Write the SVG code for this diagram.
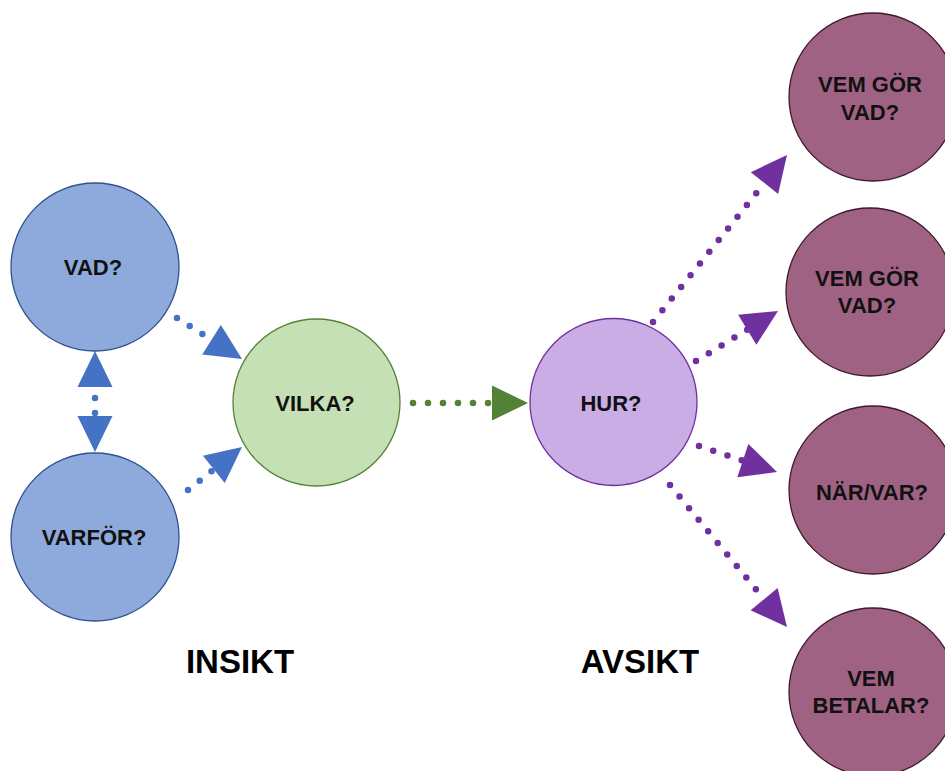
<svg xmlns="http://www.w3.org/2000/svg" width="945" height="771" viewBox="0 0 945 771">
<style>
text{font-family:"Liberation Sans",Arial,sans-serif;font-weight:bold;text-anchor:middle;fill:#111}
.lbl{font-size:22px}
.big{font-size:33px;fill:#000}
.blue{fill:#8EA9DB;stroke:#2F528F;stroke-width:1.3}
.green{fill:#C5E0B4;stroke:#548235;stroke-width:1.3}
.lilac{fill:#CAADE5;stroke:#7030A0;stroke-width:1.3}
.mauve{fill:#A06282;stroke:#3E1A2C;stroke-width:1.3}
.dot{fill:none;stroke-width:6.5;stroke-linecap:round;stroke-dasharray:0 15}
</style>
<defs>
<marker id="ab" markerUnits="userSpaceOnUse" markerWidth="36" markerHeight="35" refX="0" refY="17.5" orient="auto" overflow="visible"><path d="M0,0 L36,17.5 L0,35 Z" fill="#4472C4"/></marker>
<marker id="abs" markerUnits="userSpaceOnUse" markerWidth="36" markerHeight="35" refX="0" refY="17.5" orient="auto-start-reverse" overflow="visible"><path d="M0,0 L36,17.5 L0,35 Z" fill="#4472C4"/></marker>
<marker id="ag" markerUnits="userSpaceOnUse" markerWidth="36" markerHeight="35" refX="0" refY="17.5" orient="auto" overflow="visible"><path d="M0,0 L36,17.5 L0,35 Z" fill="#538135"/></marker>
<marker id="ap" markerUnits="userSpaceOnUse" markerWidth="36" markerHeight="35" refX="0" refY="17.5" orient="auto" overflow="visible"><path d="M0,0 L36,17.5 L0,35 Z" fill="#7030A0"/></marker>
</defs>
<rect width="945" height="771" fill="#fff"/>
<g id="connectors">
<line class="dot" x1="177" y1="318" x2="211.55" y2="339.8" stroke="#4472C4" marker-end="url(#ab)"/>
<line class="dot" x1="188" y1="490" x2="213.84" y2="469.42" stroke="#4472C4" marker-end="url(#ab)"/>
<line class="dot" x1="95" y1="387" x2="95" y2="416" stroke="#4472C4" stroke-dashoffset="-11" marker-start="url(#abs)" marker-end="url(#abs)"/>
<line class="dot" x1="413" y1="403" x2="492" y2="403" stroke="#538135" stroke-dasharray="0 14.8" marker-end="url(#ag)"/>
<line class="dot" x1="653" y1="322" x2="764.47" y2="183.08" stroke="#7030A0" marker-end="url(#ap)"/>
<line class="dot" x1="696" y1="361" x2="747.26" y2="329.74" stroke="#7030A0" marker-end="url(#ap)"/>
<line class="dot" x1="699" y1="446" x2="742.85" y2="460.62" stroke="#7030A0" marker-end="url(#ap)"/>
<line class="dot" x1="670" y1="485" x2="764.11" y2="599.22" stroke="#7030A0" marker-end="url(#ap)"/>
</g>
<g id="vad"><circle class="blue" cx="95" cy="267" r="84"/><text class="lbl" x="93" y="275">VAD?</text></g>
<g id="varfor"><circle class="blue" cx="95" cy="537" r="84"/><text class="lbl" x="94" y="545">VARFÖR?</text></g>
<g id="vilka"><circle class="green" cx="316.5" cy="402.5" r="83.5"/><text class="lbl" x="315" y="411">VILKA?</text></g>
<g id="hur"><circle class="lilac" cx="613.5" cy="402" r="83.5"/><text class="lbl" x="611" y="411">HUR?</text></g>
<g id="vem1"><circle class="mauve" cx="873" cy="97" r="84"/><text class="lbl" x="870" y="92">VEM GÖR</text><text class="lbl" x="870" y="120">VAD?</text></g>
<g id="vem2"><circle class="mauve" cx="870" cy="292" r="84"/><text class="lbl" x="867" y="286">VEM GÖR</text><text class="lbl" x="867" y="313">VAD?</text></g>
<g id="narvar"><circle class="mauve" cx="873" cy="490" r="84"/><text class="lbl" x="872" y="500">NÄR/VAR?</text></g>
<g id="betalar"><circle class="mauve" cx="873" cy="692" r="84"/><text class="lbl" x="871" y="686">VEM</text><text class="lbl" x="871" y="713">BETALAR?</text></g>
<g id="labels"><text class="big" x="240" y="673">INSIKT</text><text class="big" x="640" y="673">AVSIKT</text></g>
</svg>
